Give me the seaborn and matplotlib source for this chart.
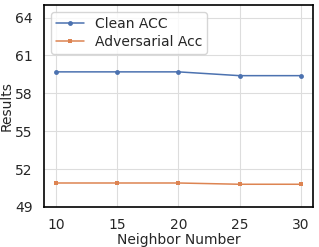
import matplotlib
matplotlib.use('Agg')
import matplotlib.pyplot as plt
import seaborn as sns
import pandas as pd

neighbors = [10, 15, 20, 25, 30]
clean_acc = [59.7, 59.7, 59.7, 59.4, 59.4]
adv_acc = [50.9, 50.9, 50.9, 50.8, 50.8]
y_ticks = [49, 52, 55, 58, 61, 64]

sns.set_theme(style='whitegrid')
plt.rcParams['font.family'] = ['DejaVu Sans']

df = pd.DataFrame({
    'Neighbor Number': neighbors * 2,
    'Results': clean_acc + adv_acc,
    'Series': ['Clean ACC'] * 5 + ['Adversarial Acc'] * 5,
})

fig, ax = plt.subplots(figsize=(3.19, 2.47), dpi=100)
palette = sns.color_palette('deep')
sns.lineplot(data=df, x='Neighbor Number', y='Results', hue='Series', style='Series',
             markers=['o', 's'], dashes=False, markersize=3.5, linewidth=1.1,
             palette=[palette[0], palette[1]], markeredgewidth=0, ax=ax)

ax.set_xlim(9, 31)
ax.set_ylim(49, 65)
ax.set_xticks(neighbors)
ax.set_yticks(y_ticks)
ax.tick_params(labelsize=10, pad=2)
ax.set_xlabel('Neighbor Number', fontsize=10, labelpad=1)
ax.set_ylabel('Results', fontsize=10, labelpad=1)
for s in ax.spines.values():
    s.set_color('black')
    s.set_linewidth(1.2)
ax.grid(color='#dddddd', linewidth=0.8)
ax.legend(loc='upper left', fontsize=10, title=None, borderpad=0.35,
          handlelength=2.0, labelspacing=0.3, borderaxespad=0.5)

fig.subplots_adjust(left=0.138, right=0.981, top=0.98, bottom=0.162)
fig.savefig('out.png', dpi=100)
